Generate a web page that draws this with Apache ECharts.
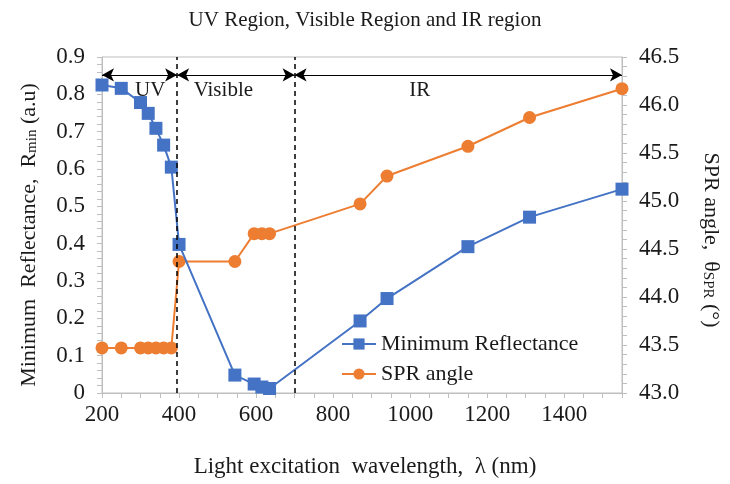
<!DOCTYPE html>
<html>
<head>
<meta charset="UTF-8">
<title>UV Visible IR</title>
<script src="https://cdn.jsdelivr.net/npm/echarts@6/dist/echarts.min.js"></script>
<style>
  html, body { margin: 0; padding: 0; background: #fff; }
  #main { width: 730px; height: 484px; }
</style>
</head>
<body>
<div id="main"></div>
<script>
// wavelength (nm)
var wavelength = [200, 250, 300, 320, 340, 360, 380, 400, 545, 595, 615, 635, 870, 940, 1150, 1310, 1550];
// minimum reflectance (a.u)
var reflectance = [0.825, 0.816, 0.778, 0.749, 0.709, 0.664, 0.605, 0.398, 0.048, 0.024, 0.016, 0.012, 0.193, 0.253, 0.392, 0.471, 0.546];
// SPR angle (deg)
var sprAngle = [43.47, 43.47, 43.47, 43.47, 43.47, 43.47, 43.47, 44.37, 44.37, 44.66, 44.66, 44.66, 44.97, 45.26, 45.57, 45.87, 46.17];
// region borders and labels
var regionBorders = [200, 395, 700, 1550];
var regionNames = ['UV', 'Visible', 'IR'];
var regionLabelX = [325, 515, 1025];
var arrowLevel = 0.852;
var labelLevel = 0.81;

var serif = '"Liberation Serif", "Times New Roman", serif';
var ink = '#1a1a1a';
var axisGray = '#bfbfbf';

function pairs(xs, ys) {
    return xs.map(function (x, i) { return [x, ys[i]]; });
}

// double arrows between borders
var arrowLines = [];
for (var i = 0; i < regionBorders.length - 1; i++) {
    arrowLines.push([
        { coord: [regionBorders[i], arrowLevel] },
        { coord: [regionBorders[i + 1], arrowLevel] }
    ]);
}
// dashed region dividers
var dividers = [
    { xAxis: regionBorders[1] },
    { xAxis: regionBorders[2] }
];
var regionTexts = regionNames.map(function (n, i) {
    return { coord: [regionLabelX[i], labelLevel], value: n };
});

var nameRich = {
    n: { fontFamily: serif, fontSize: 22, color: ink },
    s: { fontFamily: serif, fontSize: 15, color: ink, verticalAlign: 'bottom', padding: [7, 0, 0, 0] }
};

var chart = echarts.init(document.getElementById('main'));
var option = {
    animation: false,
    title: {
        text: 'UV Region, Visible Region and IR region',
        left: 'center',
        top: 5,
        textStyle: { fontFamily: serif, fontSize: 21, fontWeight: 'normal', color: ink }
    },
    grid: {
        left: 102, right: 104, top: 57, bottom: 91,
        show: true, borderColor: axisGray, borderWidth: 1
    },
    legend: {
        left: 336, top: 328, orient: 'vertical',
        itemWidth: 34, itemHeight: 14, itemGap: 8,
        textStyle: { fontFamily: serif, fontSize: 22, color: ink },
        data: ['Minimum Reflectance', 'SPR angle']
    },
    xAxis: {
        type: 'value', min: 200, max: 1550, interval: 200,
        name: 'Light excitation  wavelength,  λ (nm)',
        nameLocation: 'middle', nameGap: 62,
        nameTextStyle: { fontFamily: serif, fontSize: 23, color: ink, padding: [0, 0, 0, 6] },
        axisLine: { lineStyle: { color: axisGray } },
        axisTick: { show: true, length: 5, lineStyle: { color: axisGray } },
        minorTick: { show: true, splitNumber: 4, length: 5, lineStyle: { color: axisGray } },
        splitLine: { show: false },
        axisLabel: {
            fontFamily: serif, fontSize: 23, color: ink, margin: 10,
            showMaxLabel: false,
            formatter: function (v) { return String(v); }
        }
    },
    yAxis: [{
        type: 'value', min: 0, max: 0.9, interval: 0.1,
        name: '{n|Minimum  Reflectance,  R}{s|min}{n| (a.u)}',
        nameLocation: 'middle', nameGap: 62,
        nameTextStyle: { rich: nameRich, padding: [0, 20, 0, 0] },
        axisLine: { show: true, lineStyle: { color: axisGray } },
        axisTick: { show: true, length: 5, lineStyle: { color: axisGray } },
        minorTick: { show: true, splitNumber: 5, length: 5, lineStyle: { color: axisGray } },
        splitLine: { show: false },
        axisLabel: {
            fontFamily: serif, fontSize: 23, color: ink, margin: 17,
            formatter: function (v) { return v === 0 ? '0' : v.toFixed(1); }
        }
    }, {
        type: 'value', min: 43, max: 46.5, interval: 0.5,
        name: '{n|SPR angle,  θ}{s|SPR}{n| (°)}',
        nameLocation: 'middle', nameGap: 78, nameRotate: -90,
        nameTextStyle: { rich: nameRich, padding: [0, 0, 0, 30] },
        axisLine: { show: true, lineStyle: { color: axisGray } },
        axisTick: { show: true, length: 5, lineStyle: { color: axisGray } },
        minorTick: { show: true, splitNumber: 5, length: 5, lineStyle: { color: axisGray } },
        splitLine: { show: false },
        axisLabel: {
            fontFamily: serif, fontSize: 23, color: ink, margin: 17,
            formatter: function (v) { return v.toFixed(1); }
        }
    }],
    series: [{
        name: 'Minimum Reflectance',
        type: 'line',
        data: pairs(wavelength, reflectance),
        symbol: 'rect', symbolSize: 13,
        lineStyle: { color: '#4472C4', width: 2 },
        itemStyle: { color: '#4472C4' },
        z: 3,
        markLine: {
            silent: true,
            symbol: ['arrow', 'arrow'],
            symbolSize: [10, 12],
            lineStyle: { color: '#000', type: 'solid', width: 1 },
            label: { show: false },
            data: arrowLines
        },
        markPoint: {
            silent: true,
            symbolSize: 0,
            label: {
                show: true, position: 'inside',
                fontFamily: serif, fontSize: 21, color: ink,
                formatter: function (p) { return p.value; }
            },
            data: regionTexts
        }
    }, {
        name: 'SPR angle',
        type: 'line',
        yAxisIndex: 1,
        data: pairs(wavelength, sprAngle),
        symbol: 'circle', symbolSize: 13,
        lineStyle: { color: '#ED7D31', width: 2 },
        itemStyle: { color: '#ED7D31' },
        z: 2,
        markLine: {
            silent: true,
            symbol: ['none', 'none'],
            lineStyle: { color: '#000', type: [5, 4], width: 1.5 },
            label: { show: false },
            data: dividers
        }
    }]
};
chart.setOption(option);
</script>
</body>
</html>
